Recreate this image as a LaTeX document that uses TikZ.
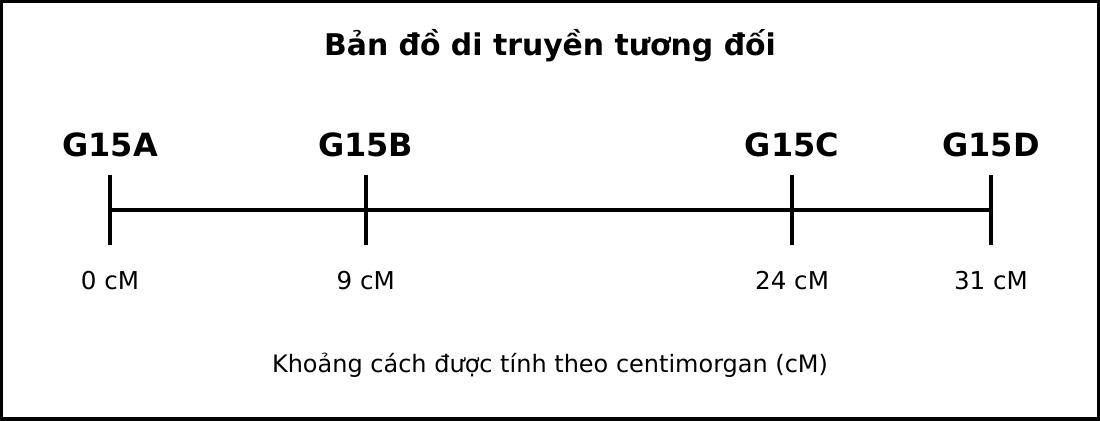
\documentclass[tikz,border=0pt]{standalone}
\usepackage{fontspec}
\setmainfont{DejaVu Sans}
\usetikzlibrary{positioning}

\begin{document}
\begin{tikzpicture}[x=0.02cm,y=-0.02cm,
	gene/.style={font=\bfseries\fontsize{18.2}{20}\selectfont},
	dist/.style={font=\fontsize{14}{16}\selectfont},
	tick/.style={line width=2pt}]
	%frame
	\useasboundingbox (0,0) rectangle (1100,420);
	\draw[line width=2pt] (1.2,1.2) rectangle (1098.8,418.8);
	\node[font=\bfseries\fontsize{17}{19}\selectfont] (title) at (550,46) {Bản đồ di truyền tương đối};
	%gene positions along the chromosome
	\foreach \g/\d in {A/0,B/9,C/24,D/31}{
		\coordinate (m\g) at (110+28.42*\d,210);
		\coordinate (top\g) at (110+28.42*\d,175);
		\coordinate (bot\g) at (110+28.42*\d,245);
		\draw[tick] (top\g)--(bot\g);
		\node[gene] (G\g) at (110+28.42*\d,145) {G15\g};
		\node[dist] (cm\g) at (110+28.42*\d,281) {\d{} cM};
	}
	%chromosome line
	\draw[line width=2.4pt] (mA)--(mD);
	\node[dist,font=\fontsize{13.65}{15}\selectfont] (note) at (550,365) {Khoảng cách được tính theo centimorgan (cM)};
\end{tikzpicture}
\end{document}
